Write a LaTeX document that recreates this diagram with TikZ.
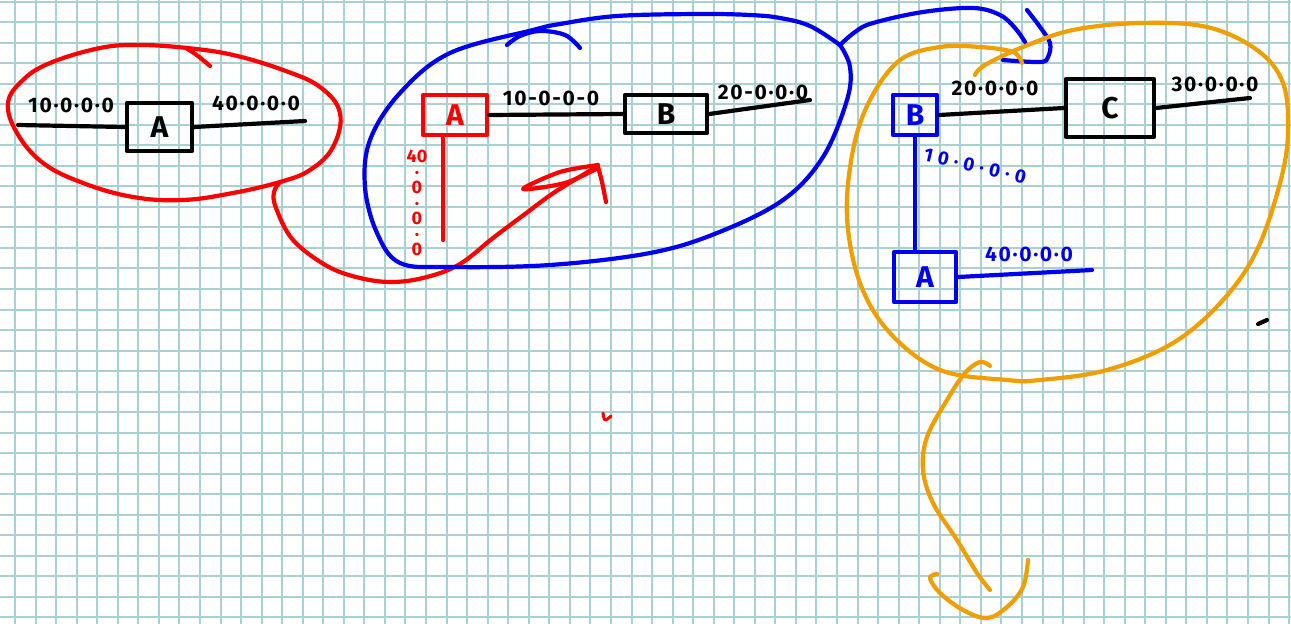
\documentclass[tikz,border=0pt]{standalone}
\usepackage{fontspec}
\setmainfont{Fira Sans}
\newfontfamily\hand[LetterSpace=8]{Fira Sans}
\newfontfamily\handr{Fira Sans}
\newfontfamily\handw[LetterSpace=28]{Fira Sans}
\definecolor{gridc}{RGB}{168,210,210}
\definecolor{penred}{RGB}{255,0,0}
\definecolor{penblue}{RGB}{0,0,240}
\definecolor{penorange}{RGB}{240,158,0}
\tikzset{
  gridline/.style={draw=gridc,line width=2pt},
  penline/.style={line width=4.2pt,line cap=round,line join=round},
  blk/.style={penline,draw=black},
  rd/.style={penline,draw=penred},
  bl/.style={penline,draw=penblue},
  og/.style={penline,draw=penorange},
  boxnode/.style={rectangle,penline,inner sep=0pt,font=\hand\bfseries\fontsize{30}{30}\selectfont},
  lbl/.style={inner sep=0pt,font=\hand\bfseries\fontsize{21}{22}\selectfont},
}
\begin{document}
\begin{tikzpicture}[x=1pt,y=-1pt]
\useasboundingbox (0,0) rectangle (1291,624);
\fill[white] (0,0) rectangle (1291,624);
% grid paper
\foreach \i in {0,...,62} \draw[gridline] ({15+20.55*\i},0) -- ({15+20.55*\i},624);
\foreach \j in {0,...,30} \draw[gridline] (0,{1.7+20.52*\j}) -- (1291,{1.7+20.52*\j});

% ---------- panel 1 ----------
\node[boxnode,draw=black,text=black,minimum width=65pt,minimum height=48pt] (A1) at (159.5,127) {A};
\coordinate (l1) at (18,125);
\coordinate (r1) at (305,121);
\draw[blk] (l1) -- (A1.west);
\draw[blk] (A1.east) -- (r1);
\node[lbl,text=black] (L1a) at (71,105) {10·0·0·0};
\node[lbl,text=black] (L1b) at (256,103) {40·0·0·0};
% red loop
\draw[rd] plot[smooth cycle,tension=0.65] coordinates {(8,103) (23,80) (50,63) (100,48) (140,45) (187,48) (233,55) (283,70) (320,87) (340,113) (333,147) (310,170) (280,182) (233,193) (183,200) (133,197) (83,183) (43,163) (17,133)};
\draw[rd] plot[smooth,tension=0.6] coordinates {(210,66) (198,56) (186,48)};
% red arrow to panel 2
\draw[rd] plot[smooth,tension=0.6] coordinates {(280,182) (274,192) (276,208) (293,240) (327,266) (360,278) (393,282) (427,277) (460,264) (493,238) (525,214) (555,192) (598,166)};
\draw[rd] plot[smooth,tension=0.5] coordinates {(598,165) (560,172) (523,189) (565,183) (598,168)};
\draw[rd] plot[smooth,tension=0.5] coordinates {(598,167) (602,182) (606,202)};

% ---------- panel 2 ----------
\node[boxnode,draw=penred,text=penred,minimum width=64pt,minimum height=40pt] (A2) at (455,115) {A};
\node[boxnode,draw=black,text=black,minimum width=82pt,minimum height=38pt] (B2) at (666,114) {B};
\coordinate (a2b) at (443,240);
\coordinate (r2) at (810,100);
\draw[blk] (A2.east) -- (B2.west);
\draw[blk] (B2.east) -- (r2);
\draw[rd] (A2.south -| a2b) -- (a2b);
\node[lbl,text=black] (L2a) at (551,98) {10-0-0-0};
\node[lbl,text=black] (L2b) at (763,92) {20-0·0·0};
\node[inner sep=0pt,text=penred,align=center,font=\handr\bfseries\fontsize{18}{15.5}\selectfont] (L2c) at (417,203) {40\\·\\0\\·\\0\\·\\0};
% blue loop
\draw[bl] plot[smooth,tension=0.6] coordinates {(840,45) (810,26) (780,18) (750,15) (700,14) (617,16) (560,24) (533,30) (450,53) (400,93) (370,140) (365,187) (377,233) (400,263) (450,267) (550,265) (650,253) (717,233) (783,200) (823,157) (847,100) (850,67) (840,45)};
\draw[bl] plot[smooth,tension=0.6] coordinates {(507,45) (520,36) (540,31) (565,35) (580,48)};
% blue arrow to panel 3
\draw[bl] plot[smooth,tension=0.6] coordinates {(840,45) (855,32) (873,23) (923,12) (973,8) (1000,15) (1015,28) (1025,42)};
\draw[bl] plot[smooth,tension=0.6] coordinates {(1027,10) (1040,27) (1050,43) (1048,57) (1040,62) (1003,60)};

% ---------- panel 3 ----------
\node[boxnode,draw=penblue,text=penblue,minimum width=44pt,minimum height=40pt] (B3) at (915,115) {B};
\node[boxnode,draw=black,text=black,minimum width=88pt,minimum height=58pt] (C3) at (1110,108) {C};
\node[boxnode,draw=penblue,text=penblue,minimum width=62pt,minimum height=50pt] (A3) at (925,277) {A};
\coordinate (r3) at (1250,98);
\coordinate (r4) at (1092,270);
\draw[blk] (B3.east) -- (C3.west);
\draw[blk] (C3.east) -- (r3);
\draw[bl] (B3.south) -- (B3.south |- A3.north);
\draw[bl] (A3.east) -- (r4);
\node[lbl,text=black] (L3a) at (995,88) {20·0·0·0};
\node[lbl,text=black] (L3b) at (1215,84) {30·0·0·0};
\node[inner sep=0pt,text=penblue,rotate=-13,font=\handw\bfseries\fontsize{19}{20}\selectfont] (L3c) at (975,166) {10·0·0·0};
\node[lbl,text=penblue] (L3d) at (1029,254) {40·0·0·0};
% orange loop
\draw[og] plot[smooth,tension=0.6] coordinates {(975,75) (985,65) (1023,47) (1073,30) (1140,23) (1207,27) (1257,50) (1283,83) (1288,133) (1280,183) (1257,250) (1223,300) (1173,343) (1107,370) (1040,380) (1007,380) (940,370) (890,333) (860,283) (847,217) (853,150) (870,100) (900,60) (940,47) (980,47) (1013,52) (1022,63)};
% orange arrow downwards
\draw[og] plot[smooth,tension=0.6] coordinates {(990,366) (980,362) (965,373) (947,400) (927,437) (923,470) (933,503) (957,540) (977,573) (990,590)};
\draw[og] plot[smooth,tension=0.6] coordinates {(937,574) (930,578) (940,593) (963,610) (987,618) (1007,607) (1023,587) (1028,560)};

% stray marks
\draw[blk] (1258,324) -- (1267,320);
\draw[rd,line width=3pt] plot[smooth,tension=0.6] coordinates {(603,413) (605,420) (611,416)};
\end{tikzpicture}
\end{document}
